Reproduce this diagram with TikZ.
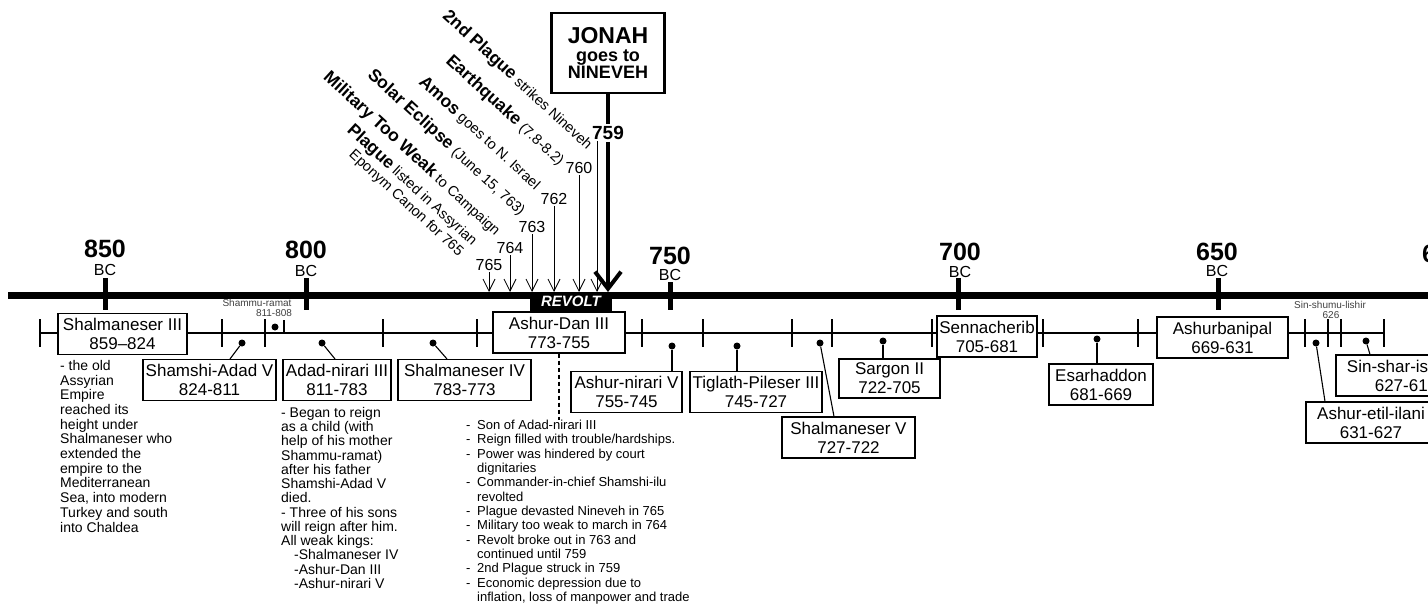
\documentclass[tikz,border=0pt]{standalone}
\usepackage{fontspec}
\setmainfont{Liberation Sans}
\usetikzlibrary{arrows.meta,calc}
\newcommand\myfs[2]{\fontsize{#1}{#2}\selectfont}
\newcommand\dashit{\makebox[11pt][l]{-}}
\newcommand\contit{\hspace*{11pt}}
\begin{document}
\begin{tikzpicture}[x=1pt,y=-1pt,
  kingbox/.style={draw, line width=1.1pt, fill=white, align=center, font=\myfs{17}{19}, inner xsep=1pt, inner ysep=1pt, minimum height=41pt},
  kdot/.style={circle, fill=black, inner sep=0pt, minimum size=7pt},
  yearnum/.style={font=\bfseries\myfs{25}{25}, inner sep=0pt},
  bclab/.style={font=\myfs{16}{16}, inner sep=0pt},
  evnum/.style={font=\myfs{16}{16}, inner sep=1.5pt},
  evlab/.style={rotate=-42.5, anchor=east, inner sep=0pt, font=\myfs{14.5}{16}},
  evarrow/.style={line width=0.8pt, -{Straight Barb[length=12pt,width=12pt]}},
  note/.style={align=left, anchor=north west, inner sep=0pt, font=\myfs{14}{14.7}},
  tinylab/.style={font=\myfs{10}{10}, inner sep=0pt, text=black!75},
  conn/.style={line width=1.1pt},
  tickline/.style={line width=1.1pt},
]
\useasboundingbox (0,0) rectangle (1428,605);
\clip (0,0) rectangle (1428,605);

% ---------- main axis ----------
\draw[line width=7pt] (8,295) -- (1440,295);
\foreach \x/\t in {105/278,306/278,670/282,958/278,1218/278}
  \draw[line width=5pt] (\x,\t) -- (\x,310);

\node[yearnum] (y850) at (105,249) {850};
\node[bclab]   (bc850) at (105,270) {BC};
\node[yearnum] (y800) at (306,250) {800};
\node[bclab]   (bc800) at (306,271) {BC};
\node[yearnum] (y750) at (670,256) {750};
\node[bclab]   (bc750) at (670,275) {BC};
\node[yearnum] (y700) at (960,252) {700};
\node[bclab]   (bc700) at (960,272) {BC};
\node[yearnum] (y650) at (1217,252) {650};
\node[bclab]   (bc650) at (1217,271) {BC};
\node[yearnum] (y600) at (1443,254) {600};
\node[bclab]   (bc600) at (1443,272) {BC};

% ---------- reign line ----------
\draw[tickline] (40,333) -- (1384,333);
\foreach \x in {40,222,265,383,477,642,703,792,832,932,1043,1138,1305,1328,1341,1384}
  \draw[tickline] (\x,319) -- (\x,347);
\draw[tickline] (284,320) -- (284,334);

\node[tinylab] (shammu) at (257,303) {Shammu-ramat};
\node[tinylab] (shammuy) at (274,313) {811-808};
\node[kdot] (dshammu) at (275,327) {};
\node[tinylab] (sinshum) at (1330,305) {Sin-shumu-lishir};
\node[tinylab] (sinshumy) at (1331,315) {626};

% ---------- kings ----------
\node[kingbox, minimum width=129pt] (shal3) at (122.5,334) {Shalmaneser III\\859--824};
\node[kingbox, minimum width=133pt] (shamshi) at (209.5,380) {Shamshi-Adad V\\824-811};
\node[kingbox, minimum width=108pt] (adad) at (337,380) {Adad-nirari III\\811-783};
\node[kingbox, minimum width=133pt] (shal4) at (464.5,380) {Shalmaneser IV\\783-773};
\node[kingbox, minimum width=132pt] (adan) at (559,332.5) {Ashur-Dan III\\773-755};
\node[kingbox, minimum width=111pt] (anir) at (626.5,392) {Ashur-nirari V\\755-745};
\node[kingbox, minimum width=132pt] (tig) at (756,392) {Tiglath-Pileser III\\745-727};
\node[kingbox, minimum width=133pt] (shal5) at (848.5,437.5) {Shalmaneser V\\727-722};
\node[kingbox, minimum width=101pt, minimum height=39pt] (sargon) at (889.5,378.5) {Sargon II\\722-705};
\node[kingbox, minimum width=100pt] (senn) at (987,336.5) {Sennacherib\\705-681};
\node[kingbox, minimum width=104pt] (esar) at (1101,384.5) {Esarhaddon\\681-669};
\node[kingbox, minimum width=131pt] (asbp) at (1222.5,337.5) {Ashurbanipal\\669-631};
\node[kingbox, minimum width=130pt] (etil) at (1371,422.5) {Ashur-etil-ilani\\631-627};
\node[kingbox, minimum width=140pt] (sinshar) at (1406,375.5) {Sin-shar-ishkun\\627-612};

\node[kdot] (dshamshi) at (242,343) {};
\node[kdot] (dadad) at (322,343) {};
\node[kdot] (dshal4) at (433,343) {};
\node[kdot] (danir) at (672,346) {};
\node[kdot] (dtig) at (737,346) {};
\node[kdot] (dshal5) at (820,343) {};
\node[kdot] (dsargon) at (883,341) {};
\node[kdot] (desar) at (1097,339) {};
\node[kdot] (detil) at (1316,343) {};
\node[kdot] (dsinshar) at (1366,341) {};

\draw[conn] (dshamshi) -- ($(shamshi.north)+(20.5,0)$);
\draw[conn] (dadad) -- ($(adad.north)+(-2,0)$);
\draw[conn] (dshal4) -- ($(shal4.north)+(-17.5,0)$);
\draw[conn] (danir) -- (danir |- anir.north);
\draw[conn] (dtig) -- (dtig |- tig.north);
\draw[conn] (dshal5) -- ($(shal5.north)+(-14.5,0)$);
\draw[conn] (dsargon) -- (dsargon |- sargon.north);
\draw[conn] (desar) -- (desar |- esar.north);
\draw[conn] (detil) -- ($(etil.north)+(-46,0)$);
\draw[conn] (dsinshar) -- ($(sinshar.north)+(-36,0)$);

% ---------- revolt ----------
\node[fill=black, text=white, font=\bfseries\itshape\myfs{15}{15}, minimum width=82pt, minimum height=19pt, inner sep=0pt] (revolt) at (571,301.5) {REVOLT};

% ---------- notes ----------
\node[note] (shalnotes) at (60,360) {- the old\\Assyrian\\Empire\\reached its\\height under\\Shalmaneser who\\extended the\\empire to the\\Mediterranean\\Sea, into modern\\Turkey and south\\into Chaldea};
\node[note, font=\myfs{14}{14.25}] (adadnotes) at (281,407) {- Began to reign\\as a child (with\\help of his mother\\Shammu-ramat)\\after his father\\Shamshi-Adad V\\died.\\- Three of his sons\\will reign after him.\\All weak kings:\\\hspace*{13pt}-Shalmaneser IV\\\hspace*{13pt}-Ashur-Dan III\\\hspace*{13pt}-Ashur-nirari V};
\node[note, font=\myfs{13}{14.33}] (dannotes) at (466,420) {\dashit Son of Adad-nirari III\\\dashit Reign filled with trouble/hardships.\\\dashit Power was hindered by court\\\contit dignitaries\\\dashit Commander-in-chief Shamshi-ilu\\\contit revolted\\\dashit Plague devasted Nineveh in 765\\\dashit Military too weak to march in 764\\\dashit Revolt broke out in 763 and\\\contit continued until 759\\\dashit 2nd Plague struck in 759\\\dashit Economic depression due to\\\contit inflation, loss of manpower and trade};
\draw[line width=1.4pt, dash pattern=on 4pt off 3pt] (adan.south) -- (adan.south |- dannotes.north);

% ---------- events ----------
\coordinate (tipline) at (0,292);
\node[evnum] (n765) at (489,265) {765};
\node[evnum] (n764) at (510,248) {764};
\node[evnum] (n763) at (532,227) {763};
\node[evnum] (n762) at (554,199) {762};
\node[evnum] (n760) at (579,168) {760};
\coordinate (p2start) at (597,141);
\foreach \n in {n765,n764,n763,n762,n760}
  \draw[evarrow] (\n.south) -- (\n.south |- tipline);
\draw[evarrow] (p2start) -- (p2start |- tipline);

\node[evlab] (e2pl) at (590,147) {\textbf{\myfs{17.5}{18}2nd Plague} strikes Nineveh};
\node[evlab] (eqk) at (562,163) {\textbf{\myfs{17.5}{18}Earthquake} (7.8-8.2)};
\node[evlab] (amos) at (538,187) {\textbf{\myfs{17.5}{18}Amos} goes to N. Israel};
\node[evlab] (solar) at (523,213) {\textbf{\myfs{17.5}{18}Solar Eclipse} (June 15, 763)};
\node[evlab] (milit) at (498,233) {\textbf{\myfs{17.5}{18}Military Too Weak} to Campaign};
\node[evlab] (plag) at (475,243) {\textbf{\myfs{17.5}{18}Plague} listed in Assyrian};
\node[evlab] (epon) at (461,254) {Eponym Canon for 765};

% ---------- Jonah ----------
\node[draw, line width=2.6pt, fill=white, minimum width=113pt, minimum height=80pt, align=center, inner sep=0pt, font=\bfseries\myfs{18}{17.5}] (jonah) at (608,53)
  {\myfs{23}{17.5}JONAH\\\myfs{18}{17.5}goes to\\\myfs{18}{17.5}NINEVEH};
\node[font=\bfseries\myfs{19}{19}, inner sep=2pt] (n759) at (608,133) {759};
\coordinate (jtip) at (608,292);
\draw[line width=4pt] (jonah.south) -- (n759.north);
\draw[line width=4pt, -{Straight Barb[length=17pt,width=26pt]}] (n759.south) -- (jtip);
\end{tikzpicture}
\end{document}
